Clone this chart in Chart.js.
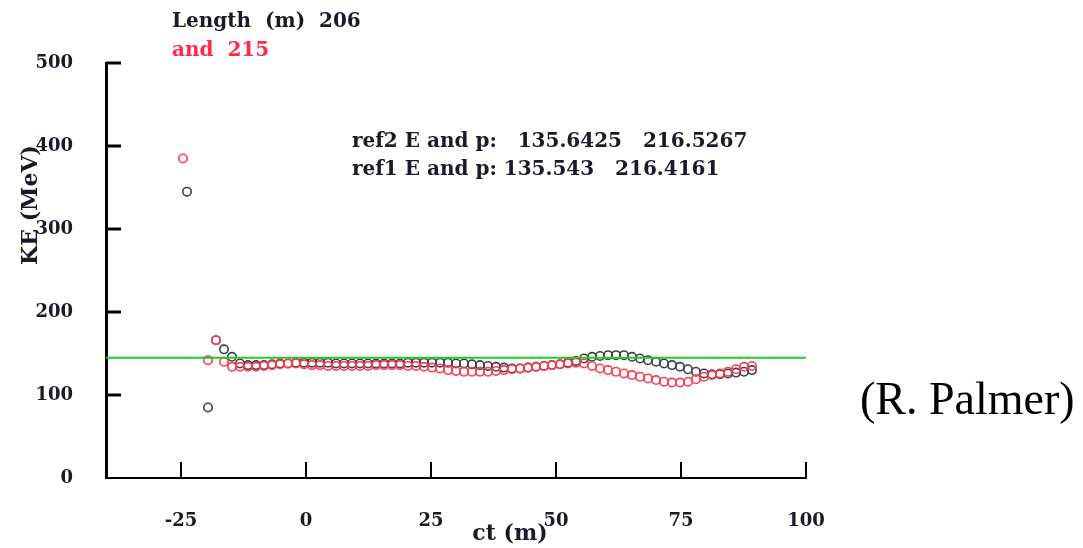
<!DOCTYPE html>
<html>
<head>
<meta charset="utf-8">
<script src="https://cdn.jsdelivr.net/npm/chart.js@4.4.1/dist/chart.umd.min.js"></script>
<style>
  body { margin: 0; background: #fff; }
  #wrap { width: 1083px; height: 548px; position: relative; }
</style>
</head>
<body>
<div id="wrap"><canvas id="myChart"></canvas></div>
<script>
// first (stray) points of each run
const ctFirstBlack = [-23.8];
const keFirstBlack = [345];
const ctFirstRed = [-24.6];
const keFirstRed = [385];

// ct (m) positions shared by both runs
const ct = [-19.6, -18.0, -16.4, -14.8, -13.2, -11.6, -10.0, -8.4, -6.8, -5.2,
  -3.6, -2.0, -0.4, 1.2, 2.8, 4.4, 6.0, 7.6, 9.2, 10.8,
  12.4, 14.0, 15.6, 17.2, 18.8, 20.4, 22.0, 23.6, 25.2, 26.8,
  28.4, 30.0, 31.6, 33.2, 34.8, 36.4, 38.0, 39.6, 41.2, 42.8,
  44.4, 46.0, 47.6, 49.2, 50.8, 52.4, 54.0, 55.6, 57.2, 58.8,
  60.4, 62.0, 63.6, 65.2, 66.8, 68.4, 70.0, 71.6, 73.2, 74.8,
  76.4, 78.0, 79.6, 81.2, 82.8, 84.4, 86.0, 87.6, 89.2];

// KE (MeV), length 206 (black)
const keBlack = [85, 166, 155, 146, 138, 136, 136, 136, 137, 138,
  138, 139, 139, 139, 139, 139, 138, 138, 138, 138,
  138, 138, 138, 138, 138, 139, 139, 139, 139, 139,
  139, 138, 138, 137, 136, 135, 134, 133, 132, 132,
  133, 134, 135, 136, 137, 139, 141, 144, 146, 147,
  148, 148, 148, 146, 144, 142, 140, 138, 136, 134,
  131, 128, 126, 125, 125, 126, 127, 128, 130];

// KE (MeV), length 215 (red)
const keRed = [142, 166, 140, 134, 134, 134, 134, 135, 136, 137,
  138, 138, 137, 136, 136, 135, 135, 135, 135, 135,
  135, 136, 136, 136, 136, 135, 135, 134, 133, 132,
  130, 129, 128, 128, 128, 128, 129, 130, 131, 132,
  133, 134, 135, 136, 137, 138, 139, 138, 135, 132,
  130, 128, 126, 124, 122, 120, 118, 116, 115, 115,
  116, 119, 122, 124, 126, 128, 131, 134, 135];

const refCt = [-40, 100];
const refKe = [145, 145];

const xTicks = [-25, 0, 25, 50, 75, 100];
const yTicks = [0, 100, 200, 300, 400, 500];

function toPoints(xs, ys) {
  return xs.map((x, i) => ({ x: x, y: ys[i] }));
}

const labelFont = { family: "DejaVu Serif", size: 18, weight: "bold" };

// ticks, titles and notes
const decor = {
  id: "decor",
  afterDraw(chart) {
    const c = chart.ctx;
    const xs = chart.scales.x;
    const ys = chart.scales.y;
    const a = chart.chartArea;
    c.save();
    c.strokeStyle = "#000";
    c.lineWidth = 3;
    yTicks.forEach((v) => {
      if (v === 0) return;
      const py = ys.getPixelForValue(v);
      c.beginPath();
      c.moveTo(a.left, py);
      c.lineTo(a.left + 15, py);
      c.stroke();
    });
    c.lineWidth = 2;
    xTicks.forEach((v) => {
      const px = xs.getPixelForValue(v);
      c.beginPath();
      c.moveTo(px, a.bottom);
      c.lineTo(px, a.bottom - 16);
      c.stroke();
    });

    c.font = "bold 20px 'DejaVu Serif'";
    c.fillStyle = "#1a1a2a";
    c.textBaseline = "alphabetic";
    c.textAlign = "left";
    c.fillText("Length  (m)  206", 172, 27);
    c.fillStyle = "#ff2a45";
    c.fillText("and  215", 172, 56);
    c.fillStyle = "#1a1a2a";
    c.fillText("ref2 E and p:   135.6425   216.5267", 352, 147);
    c.fillText("ref1 E and p: 135.543   216.4161", 352, 175);

    c.font = "bold 22px 'DejaVu Serif'";
    c.textAlign = "center";
    c.fillText("ct (m)", 510, 540);
    c.save();
    c.translate(37, 205);
    c.rotate(-Math.PI / 2);
    c.fillText("KE (MeV)", 0, 0);
    c.restore();

    c.font = "46px 'Liberation Serif'";
    c.fillStyle = "#000";
    c.textAlign = "left";
    c.fillText("(R. Palmer)", 860, 414);
    c.restore();
  }
};

const ctx = document.getElementById("myChart");
new Chart(ctx, {
  type: "scatter",
  data: {
    datasets: [
      {
        type: "line",
        label: "ref",
        data: toPoints(refCt, refKe),
        borderColor: "#22cc22",
        borderWidth: 2,
        pointRadius: 0,
        fill: false,
      },
      {
        label: "215",
        data: toPoints(ct.concat(ctFirstRed), keRed.concat(keFirstRed)),
        borderColor: "#ff3a4f",
        backgroundColor: "rgba(0,0,0,0)",
        pointRadius: 4.2,
        pointBorderWidth: 1.6,
      },
      {
        label: "206",
        data: toPoints(ct.concat(ctFirstBlack), keBlack.concat(keFirstBlack)),
        borderColor: "#3b4050",
        backgroundColor: "rgba(0,0,0,0)",
        pointRadius: 4.2,
        pointBorderWidth: 1.6,
      },
    ],
  },
  options: {
    responsive: true,
    maintainAspectRatio: false,
    animation: false,
    events: [],
    layout: { padding: { top: 63, right: 277, left: 0, bottom: 0 } },
    plugins: {
      legend: { display: false },
      tooltip: { enabled: false },
    },
    scales: {
      x: {
        type: "linear",
        min: -40,
        max: 100,
        afterBuildTicks: (s) => { s.ticks = xTicks.map((v) => ({ value: v })); },
        afterFit: (s) => { s.height = 70; },
        grid: { display: false, drawTicks: false },
        border: { display: true, color: "#000", width: 2 },
        ticks: { color: "#1a1a2a", font: labelFont, padding: 33, maxRotation: 0 },
      },
      y: {
        type: "linear",
        min: 0,
        max: 500,
        afterBuildTicks: (s) => { s.ticks = yTicks.map((v) => ({ value: v })); },
        afterFit: (s) => { s.width = 106; },
        grid: { display: false, drawTicks: false },
        border: { display: true, color: "#000", width: 3 },
        ticks: { color: "#1a1a2a", font: labelFont, padding: 33 },
      },
    },
  },
  plugins: [decor],
});
</script>
</body>
</html>
